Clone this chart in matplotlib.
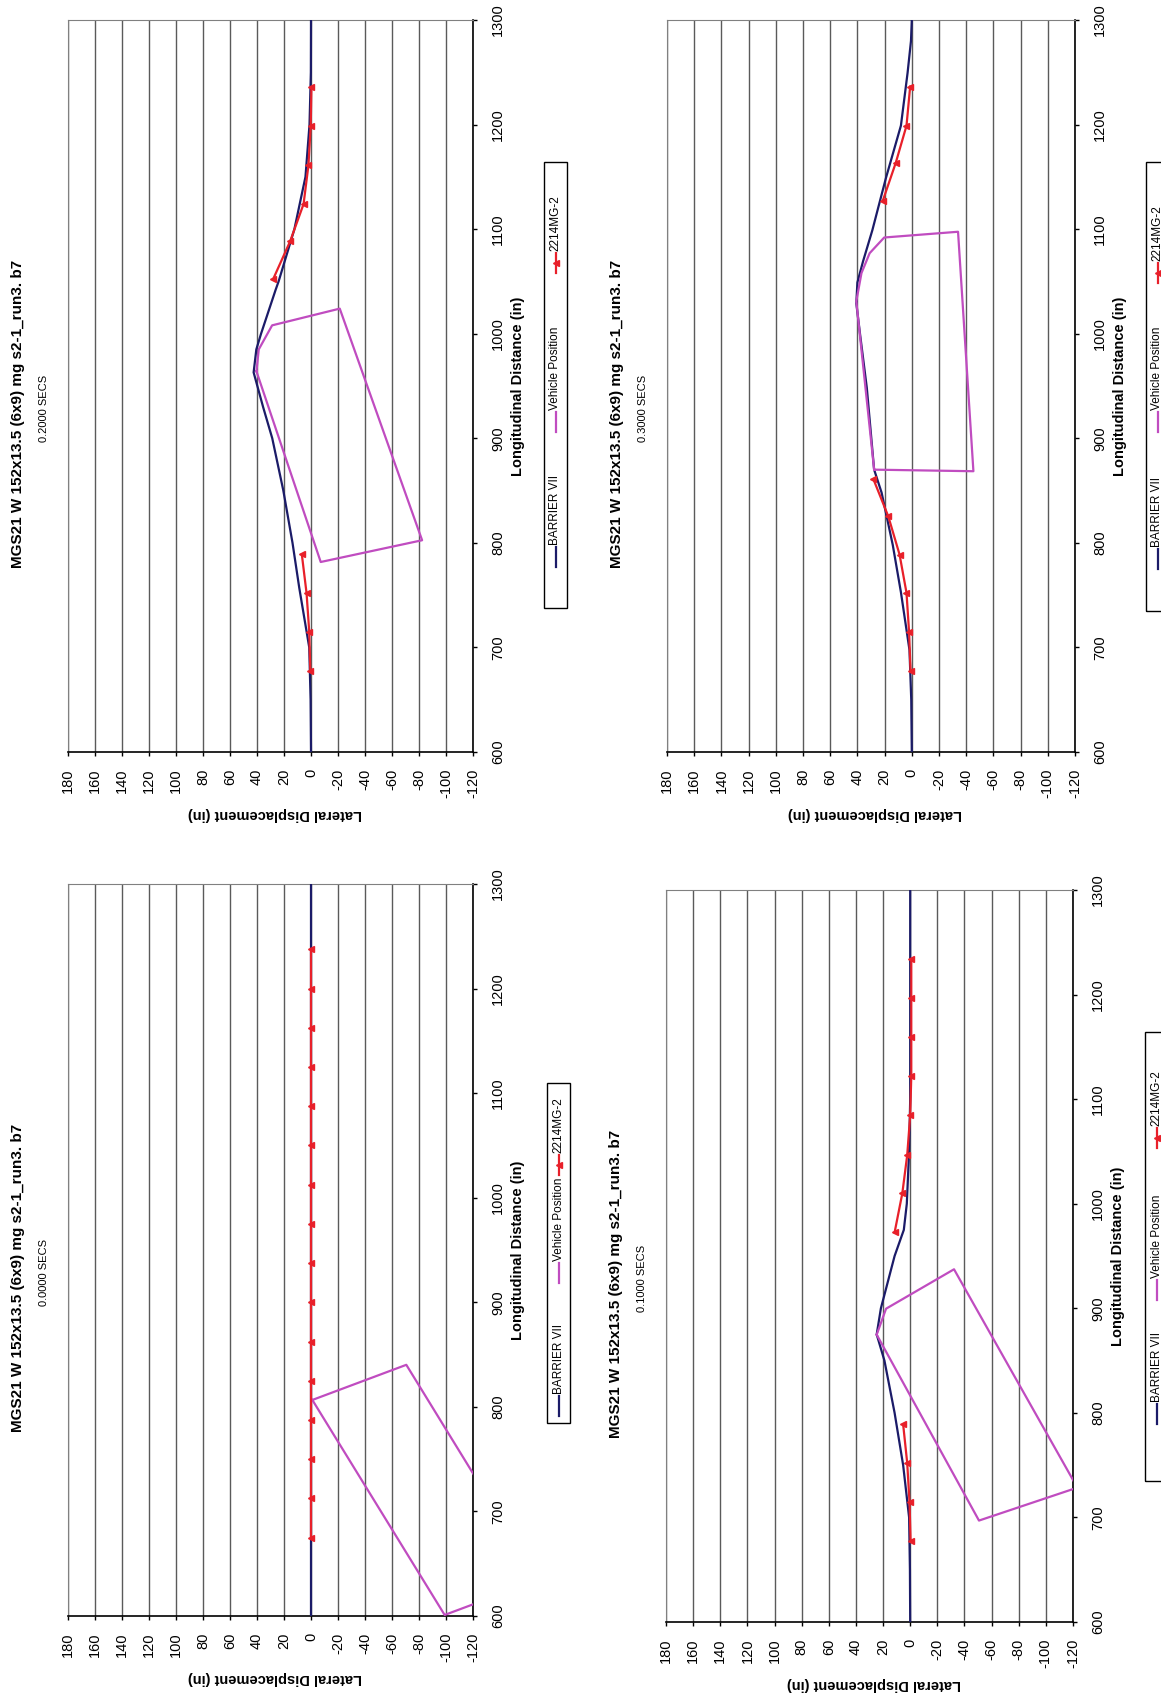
import numpy as np
import matplotlib
matplotlib.use('Agg')
import matplotlib.pyplot as plt
from matplotlib.lines import Line2D
from matplotlib.patches import Rectangle

plt.rcParams['font.family'] = ['Liberation Sans', 'DejaVu Sans']

nan = np.nan

# text
title = 'MGS21 W 152x13.5 (6x9) mg s2-1_run3. b7'
xlabel = 'Longitudinal Distance (in)'
ylabel = 'Lateral Displacement (in)'
series_names = ['BARRIER VII', 'Vehicle Position', '2214MG-2']
lat_ticks = [180, 160, 140, 120, 100, 80, 60, 40, 20, 0, -20, -40, -60, -80, -100, -120]
long_ticks = [600, 700, 800, 900, 1000, 1100, 1200, 1300]

# ---- 0.0000 SECS ----
bar_x_00 = [600, 1300]
bar_y_00 = [0, 0]
veh_x_00 = [806.6, 840.2, 634.5, 601, 806.6]
veh_y_00 = [-1, -70.6, -168.5, -99, -1]
post_x_00 = [675, 712.5, 750, 787.5, 825, 862.5, 900, 937.5, 975, 1012.5,
             1050, 1087.5, 1125, 1162.5, 1200, 1237.5]
post_y_00 = [0, 0, 0, 0, 0, 0, 0, 0, 0, 0, 0, 0, 0, 0, 0, 0]

# ---- 0.1000 SECS ----
bar_x_01 = [600, 650, 700, 750, 800, 850, 875, 900, 950, 975, 1000, 1050, 1100, 1300]
bar_y_01 = [0, 0.2, 0.8, 5.2, 11.5, 19, 24.7, 21.6, 11.5, 4.7, 2.5, 0.8, 0, 0]
veh_x_01 = [874.8, 899.6, 937.3, 728.5, 697, 874.8]
veh_y_01 = [24.7, 17.8, -32.3, -123.2, -50.7, 24.7]
post_x_01 = [677, 714.5, 752, 789, nan, 972.5, 1010, 1046.5, 1084.5, 1122, 1159, 1197, 1234]
post_y_01 = [-0.3, 0.5, 2.2, 5.2, nan, 11.5, 5.8, 2.2, 0, -0.8, -0.8, -0.8, -0.8]

# ---- 0.2000 SECS ----
bar_x_02 = [600, 650, 700, 757, 800, 850, 900, 930, 963, 985, 1000, 1042, 1050,
            1100, 1150, 1200, 1250, 1300]
bar_y_02 = [0, 0.3, 1.3, 8.7, 13.7, 20.5, 28.7, 35.5, 42.5, 40.5, 37, 26.2, 24,
            12.3, 4.1, 1.1, 0.1, 0]
veh_x_02 = [964, 985, 1008, 1024, 802.5, 781.7, 964]
veh_y_02 = [40.4, 38.7, 28.8, -21.3, -82.3, -7.2, 40.4]
post_x_02 = [677, 715, 752, 789, nan, 1052.6, 1088.6, 1124, 1161, 1199, 1235.5]
post_y_02 = [0.5, 1.3, 3.3, 6.8, nan, 27.9, 15.4, 5.5, 1.9, 0.2, -0.3]

# ---- 0.3000 SECS ----
bar_x_03 = [600, 650, 697.5, 752.8, 798, 848, 870, 948.5, 999, 1029, 1049, 1069,
            1099, 1149, 1199, 1249.5, 1280, 1300]
bar_y_03 = [0, 0.4, 1.7, 8, 14, 22.2, 27.7, 33.1, 38, 40.8, 40, 35.9,
            29, 19, 8, 3.1, 0.6, 0]
veh_x_03 = [870, 1031, 1058, 1077, 1092, 1097.5, 868.5, 870]
veh_y_03 = [27.7, 40.8, 37, 31, 20.3, -34, -45.3, 27.7]
post_x_03 = [677, 714.8, 752.3, 788.8, 825.4, 860.8, nan, 1126.9, 1163.4, 1198.9, 1236.4]
post_y_03 = [0.9, 2, 3.9, 9, 17.3, 28.2, nan, 21.4, 11.8, 3.9, 1.2]

navy = '#1b1b68'
magenta = '#c04cc0'
red = '#e8202a'

W, H = 1161, 1695
fig = plt.figure(figsize=(W / 100, H / 100), dpi=100)


def fx(x):
    return x / W


def fy(y):
    return 1 - y / H


# layout in pixels: plot box, legend box, legend entry offsets from legend bottom
panels = [
    dict(t='0.0000', box=(68, 884, 473, 1616), leg=(547, 1083, 570, 1423), ent=(7, 140, 248),
         bar=(bar_x_00, bar_y_00), veh=(veh_x_00, veh_y_00), post=(post_x_00, post_y_00)),
    dict(t='0.1000', box=(666, 890, 1073, 1622), leg=(1145, 1032, 1168, 1481), ent=(57, 181, 333),
         bar=(bar_x_01, bar_y_01), veh=(veh_x_01, veh_y_01), post=(post_x_01, post_y_01)),
    dict(t='0.2000', box=(68, 20, 473, 752), leg=(544, 162, 567, 608), ent=(41, 176, 335),
         bar=(bar_x_02, bar_y_02), veh=(veh_x_02, veh_y_02), post=(post_x_02, post_y_02)),
    dict(t='0.3000', box=(667, 20, 1075, 752), leg=(1146, 162, 1169, 611), ent=(42, 179, 328),
         bar=(bar_x_03, bar_y_03), veh=(veh_x_03, veh_y_03), post=(post_x_03, post_y_03)),
]

for p in panels:
    x0, y0, x1, y1 = p['box']
    ax = fig.add_axes([fx(x0), fy(y1), (x1 - x0) / W, (y1 - y0) / H])

    # chart is turned on its side: lateral across, longitudinal up
    ax.plot(p['bar'][1], p['bar'][0], color=navy, lw=1.6, zorder=3)
    ax.plot(p['veh'][1], p['veh'][0], color=magenta, lw=1.6, zorder=3)
    ax.plot(p['post'][1], p['post'][0], color=red, lw=1.6, marker='<', ms=5, zorder=4)

    ax.set_xlim(180, -120)
    ax.set_ylim(600, 1300)
    ax.set_xticks(lat_ticks)
    ax.set_xticklabels([str(v) for v in lat_ticks])
    ax.set_yticks(long_ticks)
    ax.set_yticklabels([str(v) for v in long_ticks])
    ax.yaxis.tick_right()
    ax.tick_params(axis='x', labelrotation=90, labelsize=10.5, length=3, width=1, pad=9)
    ax.tick_params(axis='y', labelrotation=90, labelsize=10.5, length=3, width=1, pad=10)
    for lab in ax.get_yticklabels():
        lab.set_verticalalignment('center')
    ax.xaxis.grid(True, color='#5a5a5a', lw=1)
    ax.yaxis.grid(False)
    for s in ['top', 'left']:
        ax.spines[s].set_color('#808080')
    for s in ['bottom', 'right']:
        ax.spines[s].set_color('black')
        ax.spines[s].set_linewidth(1.2)

    cx = (x0 + x1) / 2
    cy = (y0 + y1) / 2
    fig.text(fx(x0 - 50), fy(cy + 28), title, rotation=90, ha='center', va='center',
             fontsize=11, fontweight='bold')
    fig.text(fx(x0 - 24), fy(cy + 22), p['t'] + ' SECS', rotation=90, ha='center', va='center',
             fontsize=8)
    fig.text(fx(cx + 4), fy(y1 + 62), ylabel, rotation=180, ha='center', va='center',
             fontsize=10.5, fontweight='bold')
    fig.text(fx(x1 + 45), fy(cy), xlabel, rotation=90, ha='center', va='center',
             fontsize=10.5, fontweight='bold')

    # legend, drawn by hand because it is rotated
    lx0, ly0, lx1, ly1 = p['leg']
    fig.add_artist(Rectangle((fx(lx0), fy(ly1)), (lx1 - lx0) / W, (ly1 - ly0) / H,
                             transform=fig.transFigure, fill=False, ec='black', lw=1))
    lc = (lx0 + lx1) / 2
    for name, col, off in zip(series_names, [navy, magenta, red], p['ent']):
        yb = ly1 - off
        fig.add_artist(Line2D([fx(lc), fx(lc)], [fy(yb), fy(yb - 20)], transform=fig.transFigure,
                              color=col, lw=1.6))
        if col == red:
            fig.add_artist(Line2D([fx(lc)], [fy(yb - 10)], transform=fig.transFigure,
                                  color=col, marker='<', ms=5))
        fig.text(fx(lc), fy(yb - 22), name, rotation=90, rotation_mode='anchor',
                 ha='left', va='center', fontsize=8.5)

fig.savefig('out.png', dpi=100)
